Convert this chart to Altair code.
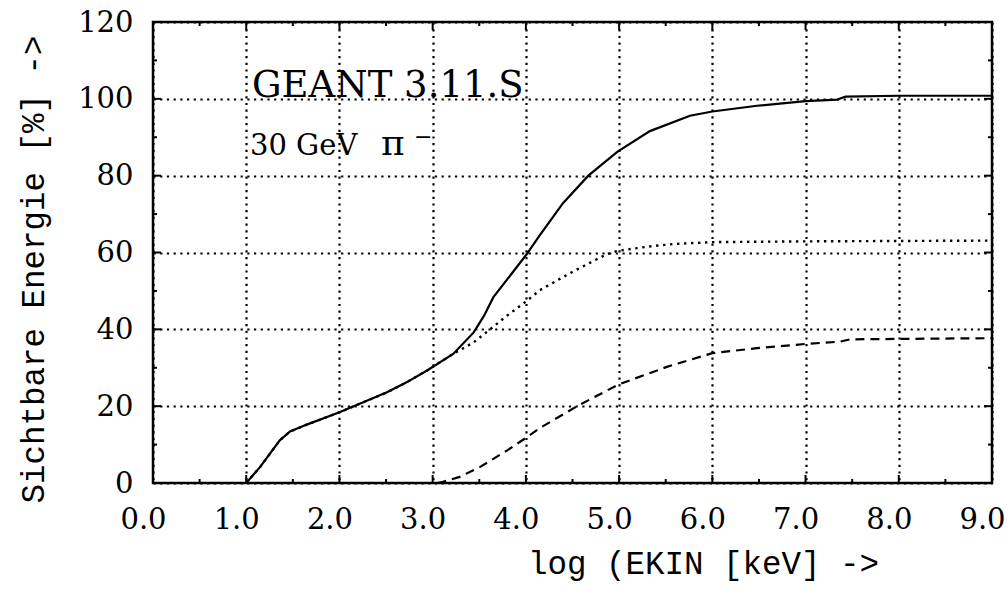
import altair as alt
import pandas as pd

# ---- data ----
total_x = [1.0, 1.15, 1.36, 1.47, 1.65, 2.0, 2.51, 2.72, 2.94, 3.22, 3.44, 3.55, 3.65,
           4.01, 4.15, 4.40, 4.67, 4.98, 5.33, 5.76, 6.0, 6.48, 7.0, 7.34, 7.43, 8.0, 9.0]
total_y = [0.0, 4.2, 11.1, 13.4, 15.2, 18.4, 23.6, 26.2, 29.3, 33.6, 39.2, 43.5, 48.3,
           59.6, 64.5, 72.9, 80.0, 86.2, 91.6, 95.6, 96.7, 98.2, 99.4, 99.8, 100.6, 100.8, 100.8]

dotted_x = [1.0, 1.15, 1.36, 1.47, 1.65, 2.0, 2.51, 2.72, 2.94, 3.22, 3.44, 3.62, 3.8,
            4.01, 4.15, 4.51, 4.87, 4.98, 5.3, 5.58, 6.0, 7.0, 9.0]
dotted_y = [0.0, 4.2, 11.1, 13.4, 15.2, 18.4, 23.6, 26.2, 29.3, 33.6, 36.6, 40.1, 43.6,
            47.4, 50.2, 55.1, 59.6, 60.4, 61.5, 62.2, 62.7, 62.9, 63.1]

dashed_x = [3.05, 3.11, 3.29, 3.51, 3.8, 4.01, 4.15, 4.55, 4.99, 5.52, 6.0, 6.48, 7.0,
            7.37, 7.48, 9.0]
dashed_y = [0.0, 0.3, 1.6, 4.2, 8.5, 11.9, 14.3, 20.0, 25.6, 30.3, 33.8, 35.1, 36.2,
            36.8, 37.4, 37.7]

x_major = [0, 1, 2, 3, 4, 5, 6, 7, 8, 9]
x_minor = [0.5, 1.5, 2.5, 3.5, 4.5, 5.5, 6.5, 7.5, 8.5]
y_major = [0, 20, 40, 60, 80, 100, 120]
y_minor = [10, 30, 50, 70, 90, 110]

W, H = 839, 461
SERIF = "DejaVu Serif"
MONO = "Liberation Mono"
GRID_DASH = [2.2, 4.5]

xscale = alt.Scale(domain=[0, 9], nice=False, zero=False)
yscale = alt.Scale(domain=[0, 120], nice=False)

xaxis = alt.Axis(values=x_major, format=".1f", grid=True, gridDash=GRID_DASH, gridColor="black",
                 gridWidth=2.2, gridOpacity=1, ticks=False, domain=False,
                 labelFont=SERIF, labelFontSize=29, labelColor="black", labelPadding=22,
                 labelOffset=-10, labelFlush=False,
                 title="log (EKIN [keV] ->", titleFont=MONO, titleFontSize=32.5,
                 titleFontWeight="normal", titleColor="black", titleX=550, titleY=90,
                 titleBaseline="alphabetic", titleAlign="center")
yaxis = alt.Axis(values=y_major, grid=True, gridDash=GRID_DASH, gridColor="black",
                 gridWidth=2.2, gridOpacity=1, ticks=False, domain=False,
                 labelFont=SERIF, labelFontSize=29, labelColor="black", labelPadding=20,
                 labelFlush=False,
                 title="Sichtbare Energie [%] ->", titleFont=MONO, titleFontSize=32.5,
                 titleFontWeight="normal", titleColor="black", titleX=-110, titleY=247,
                 titleBaseline="alphabetic", titleAlign="center", titleAngle=270)

def line_layer(xs, ys, dash, width):
    df = pd.DataFrame({"x": xs, "y": ys})
    kw = dict(color="black", strokeWidth=width, clip=True)
    if dash:
        kw["strokeDash"] = dash
    return alt.Chart(df).mark_line(**kw).encode(
        x=alt.X("x:Q", scale=xscale, axis=xaxis),
        y=alt.Y("y:Q", scale=yscale, axis=yaxis),
    )

base_total = line_layer(total_x, total_y, None, 2.2)
base_dotted = line_layer(dotted_x, dotted_y, [2.4, 4.6], 2.4)
base_dashed = line_layer(dashed_x, dashed_y, [9, 6], 2.2)

def xticks(vals, length):
    df = pd.DataFrame({"x": vals})
    bottom = alt.Chart(df).mark_rule(color="black", strokeWidth=2).encode(
        x=alt.X("x:Q", scale=xscale), y=alt.value(H), y2=alt.value(H - length))
    top = alt.Chart(df).mark_rule(color="black", strokeWidth=2).encode(
        x=alt.X("x:Q", scale=xscale), y=alt.value(0), y2=alt.value(length))
    return [bottom, top]

def yticks(vals, length):
    df = pd.DataFrame({"y": vals})
    left = alt.Chart(df).mark_rule(color="black", strokeWidth=2).encode(
        y=alt.Y("y:Q", scale=yscale), x=alt.value(0), x2=alt.value(length))
    right = alt.Chart(df).mark_rule(color="black", strokeWidth=2).encode(
        y=alt.Y("y:Q", scale=yscale), x=alt.value(W), x2=alt.value(W - length))
    return [left, right]

tick_layers = xticks(x_major, 8) + xticks(x_minor, 4) + yticks(y_major, 8) + yticks(y_minor, 4)

lbl = pd.DataFrame({"t": [0]})

def note(text, x, y, size, baseline="alphabetic"):
    return alt.Chart(lbl).mark_text(text=text, font=SERIF, fontSize=size, align="left",
                                    baseline=baseline, color="black").encode(
        x=alt.value(x), y=alt.value(y))

txt1 = note("GEANT 3.11.S", 99, 75, 37)
txt2 = note("30 GeV", 97, 133, 29)
txt3 = note("π", 228, 133, 36)
txt4 = note("−", 261, 115, 22, baseline="middle")

chart = alt.layer(base_total, base_dotted, base_dashed, *tick_layers,
                  txt1, txt2, txt3, txt4).properties(
    width=W, height=H,
    padding={"left": 153, "top": 22, "right": 16, "bottom": 114},
    autosize=alt.AutoSizeParams(type="none"),
    background="white",
).configure_view(stroke="black", strokeWidth=2.5)

chart.save("out.html", embed_options={"renderer": "svg", "actions": False})
